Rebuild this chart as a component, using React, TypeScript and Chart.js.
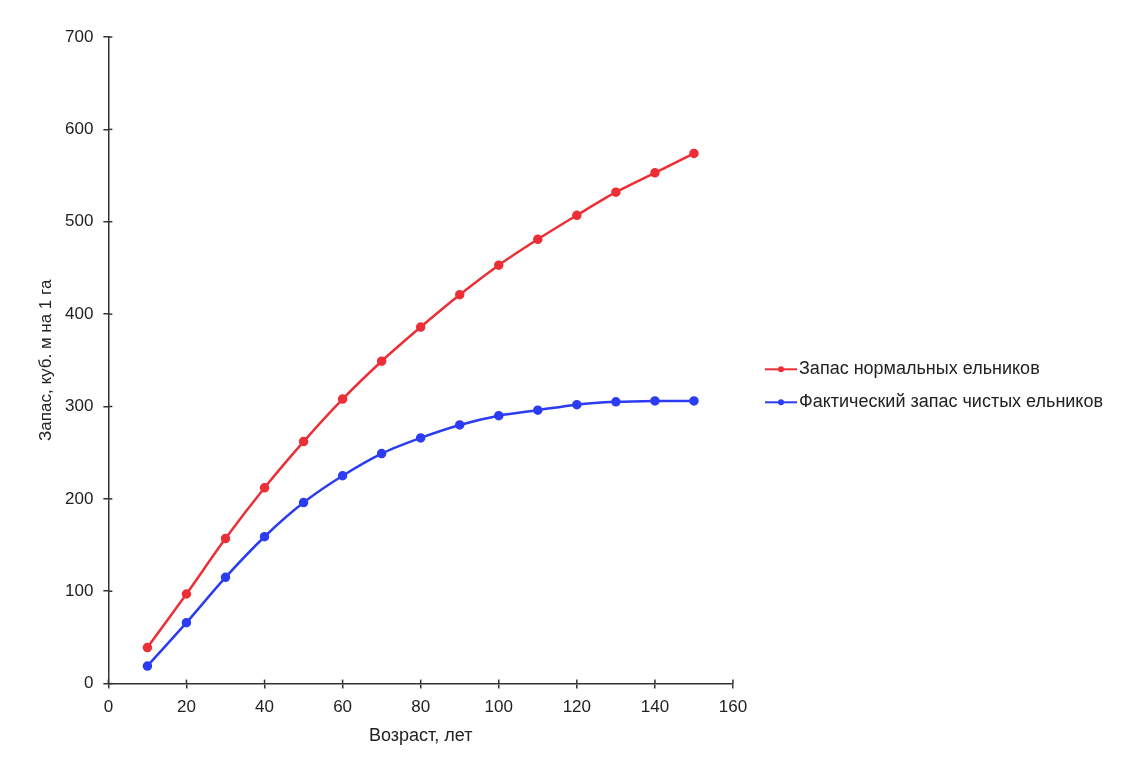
import { Chart, registerables } from "chart.js"
import React, { useEffect, useRef } from "react"

Chart.register(...registerables)

const ages = [10, 20, 30, 40, 50, 60, 70, 80, 90, 100, 110, 120, 130, 140, 150]
const normalStock = [39, 97, 157, 212, 262, 308, 349, 386, 421, 453, 481, 507, 532, 553, 574]
const actualStock = [19, 66, 115, 159, 196, 225, 249, 266, 280, 290, 296, 302, 305, 306, 306]
const seriesNames = ["Запас нормальных ельников", "Фактический запас чистых ельников"]
const seriesColors = ["#ec2f36", "#2b3cf3"]

const AXIS_COLOR = "#333"
const TEXT_COLOR = "#222"
const FONT = "'Liberation Sans', Arial, sans-serif"

// tick marks that also poke into the plot a bit
const innerTicks = {
  id: "innerTicks",
  afterDatasetsDraw(chart: Chart) {
    const { ctx, chartArea, scales } = chart
    ctx.save()
    ctx.strokeStyle = AXIS_COLOR
    ctx.lineWidth = 1.5
    scales.x.ticks.forEach((t) => {
      const px = scales.x.getPixelForValue(t.value)
      ctx.beginPath()
      ctx.moveTo(px, chartArea.bottom)
      ctx.lineTo(px, chartArea.bottom - 4)
      ctx.stroke()
    })
    scales.y.ticks.forEach((t) => {
      const py = scales.y.getPixelForValue(t.value)
      ctx.beginPath()
      ctx.moveTo(chartArea.left, py)
      ctx.lineTo(chartArea.left + 4, py)
      ctx.stroke()
    })
    ctx.restore()
  },
}

// legend to the right of the plot: line with a dot, then the label
const sideLegend = {
  id: "sideLegend",
  afterDraw(chart: Chart) {
    const { ctx, chartArea } = chart
    const x0 = chartArea.right + 32
    const yMid = (chartArea.top + chartArea.bottom) / 2
    ctx.save()
    ctx.font = `18px ${FONT}`
    ctx.textBaseline = "middle"
    chart.data.datasets.forEach((ds, i) => {
      const y = yMid + 9 + i * 33
      const color = ds.borderColor as string
      ctx.strokeStyle = color
      ctx.lineWidth = 2
      ctx.beginPath()
      ctx.moveTo(x0, y)
      ctx.lineTo(x0 + 32, y)
      ctx.stroke()
      ctx.fillStyle = color
      ctx.beginPath()
      ctx.arc(x0 + 16, y, 3, 0, Math.PI * 2)
      ctx.fill()
      ctx.fillStyle = TEXT_COLOR
      ctx.fillText(ds.label ?? "", x0 + 34, y)
    })
    ctx.restore()
  },
}

const App: React.FC = () => {
  const canvasRef = useRef<HTMLCanvasElement>(null)

  useEffect(() => {
    const ctx = canvasRef.current?.getContext("2d")
    if (!ctx) return
    const series = [normalStock, actualStock]

    const chart = new Chart(ctx, {
      type: "line",
      data: {
        datasets: series.map((vals, i) => ({
          label: seriesNames[i],
          data: ages.map((a, j) => ({ x: a, y: vals[j] })),
          borderColor: seriesColors[i],
          backgroundColor: seriesColors[i],
          borderWidth: 2.5,
          pointRadius: 3.5,
          pointHoverRadius: 3.5,
          tension: 0.3,
        })),
      },
      options: {
        animation: false,
        responsive: true,
        maintainAspectRatio: false,
        layout: { padding: { left: 26, top: 29, right: 389, bottom: 13 } },
        plugins: {
          tooltip: { enabled: false },
          legend: { display: false },
        },
        scales: {
          x: {
            type: "linear",
            min: 0,
            max: 160,
            ticks: { stepSize: 20, color: TEXT_COLOR, font: { family: FONT, size: 17 }, padding: 9 },
            grid: { drawOnChartArea: false, color: AXIS_COLOR, tickLength: 5, lineWidth: 1.5 },
            border: { color: AXIS_COLOR, width: 1.5 },
            title: {
              display: true,
              text: "Возраст, лет",
              color: TEXT_COLOR,
              font: { family: FONT, size: 18, lineHeight: 1 },
              padding: { top: 0, bottom: 4 },
            },
          },
          y: {
            min: 0,
            max: 700,
            ticks: { stepSize: 100, color: TEXT_COLOR, font: { family: FONT, size: 17 }, padding: 10 },
            grid: { drawOnChartArea: false, color: AXIS_COLOR, tickLength: 5, lineWidth: 1.5 },
            border: { color: AXIS_COLOR, width: 1.5 },
            title: {
              display: true,
              text: "Запас, куб. м на 1 га",
              color: TEXT_COLOR,
              font: { family: FONT, size: 17, lineHeight: 1 },
              padding: { top: 4, bottom: 0 },
            },
          },
        },
      },
      plugins: [innerTicks, sideLegend],
    })

    return () => chart.destroy()
  }, [])

  return (
    <div style={{ width: 1114, height: 754, position: "relative" }}>
      <canvas ref={canvasRef}></canvas>
    </div>
  )
}

export default App
